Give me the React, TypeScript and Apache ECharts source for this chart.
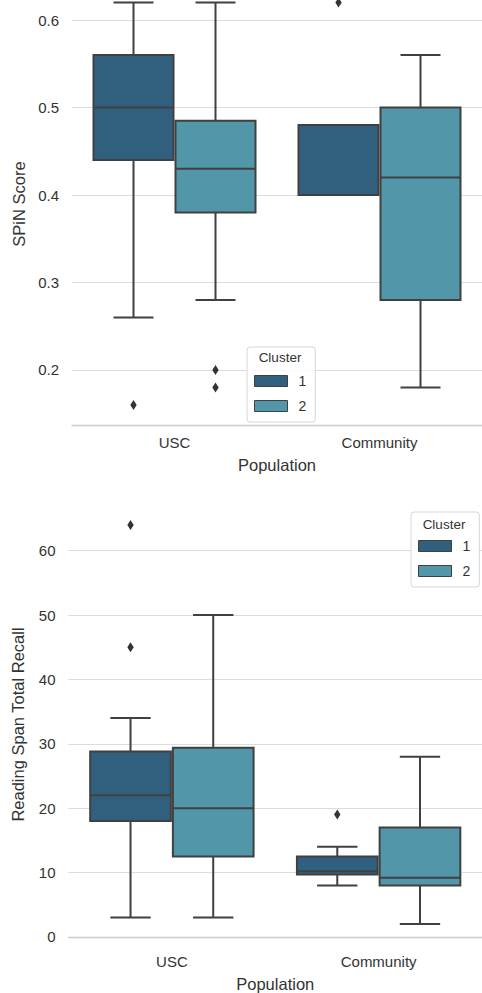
import React, { useEffect, useRef } from 'react';
import * as echarts from 'echarts';

// ---- data ----
const categories = ['USC', 'Community'];
const clusterNames = ['1', '2'];
// each row: [min whisker, Q1, median, Q3, max whisker], one row per category
const spinCluster1 = [
  [0.26, 0.44, 0.5, 0.56, 0.62],
  [0.4, 0.4, 0.4, 0.48, 0.48],
];
const spinCluster2 = [
  [0.28, 0.38, 0.43, 0.485, 0.62],
  [0.18, 0.28, 0.42, 0.5, 0.56],
];
// [category index, value]
const spinOutliers1 = [
  [0, 0.16],
  [1, 0.62],
];
const spinOutliers2 = [
  [0, 0.2],
  [0, 0.18],
];
const recallCluster1 = [
  [3, 18, 22, 28.8, 34],
  [8, 9.7, 10.2, 12.5, 14],
];
const recallCluster2 = [
  [3, 12.5, 20, 29.4, 50],
  [2, 8, 9.2, 17, 28],
];
const recallOutliers1 = [
  [0, 45],
  [0, 64],
  [1, 19],
];
const recallOutliers2: number[][] = [];

const spinRange = [0.137, 0.623];
const recallRange = [-1.1, 67.1];

const COLOR1 = '#31607e';
const COLOR2 = '#5296aa';
const LINE = '#404040';
const FONT = '"Liberation Sans", Arial, sans-serif';

const toRows = (stats: number[][]) => stats.map((s, i) => [i, ...s]);

const makeBoxRender = (side: number) => (params: any, api: any) => {
  const cat = api.value(0);
  const band = api.size([1, 0])[0];
  const base = api.coord([cat, api.value(3)]);
  const cx = base[0] + side * band * 0.2;
  const w = band * 0.4 - 2;
  const y = (v: number) => api.coord([cat, v])[1];
  const yMin = y(api.value(1));
  const yQ1 = y(api.value(2));
  const yMed = y(api.value(3));
  const yQ3 = y(api.value(4));
  const yMax = y(api.value(5));
  const cap = w / 4;
  const ls = { stroke: LINE, lineWidth: 2 };
  return {
    type: 'group',
    children: [
      { type: 'line', shape: { x1: cx, y1: yMin, x2: cx, y2: yMax }, style: ls },
      { type: 'line', shape: { x1: cx - cap, y1: yMin, x2: cx + cap, y2: yMin }, style: ls },
      { type: 'line', shape: { x1: cx - cap, y1: yMax, x2: cx + cap, y2: yMax }, style: ls },
      {
        type: 'rect',
        shape: { x: cx - w / 2, y: yQ3, width: w, height: yQ1 - yQ3 },
        style: { fill: api.visual('color'), stroke: LINE, lineWidth: 2 },
      },
      { type: 'line', shape: { x1: cx - w / 2, y1: yMed, x2: cx + w / 2, y2: yMed }, style: ls },
    ],
  };
};

const makeOutlierRender = (side: number) => (params: any, api: any) => {
  const cat = api.value(0);
  const band = api.size([1, 0])[0];
  const p = api.coord([cat, api.value(1)]);
  const cx = p[0] + side * band * 0.2;
  const cy = p[1];
  return {
    type: 'polygon',
    shape: {
      points: [
        [cx, cy - 5],
        [cx + 3.2, cy],
        [cx, cy + 5],
        [cx - 3.2, cy],
      ],
    },
    style: { fill: '#333333' },
  };
};

const boxSeries = (name: string, color: string, stats: number[][], side: number, gi: number) => ({
  type: 'custom',
  name,
  xAxisIndex: gi,
  yAxisIndex: gi,
  itemStyle: { color },
  renderItem: makeBoxRender(side),
  encode: { x: 0, y: [1, 2, 3, 4, 5] },
  data: toRows(stats),
  clip: false,
  z: 3,
});

const outlierSeries = (name: string, pts: number[][], side: number, gi: number) => ({
  type: 'custom',
  name,
  xAxisIndex: gi,
  yAxisIndex: gi,
  renderItem: makeOutlierRender(side),
  encode: { x: 0, y: 1 },
  data: pts,
  clip: false,
  z: 4,
});

const xAxisCfg = (gi: number) => ({
  type: 'category',
  gridIndex: gi,
  data: categories,
  axisTick: { show: false },
  axisLine: { show: true, lineStyle: { color: '#cccccc', width: 1.3 } },
  axisLabel: { fontSize: 15, color: '#333', margin: 10, fontFamily: FONT },
  name: 'Population',
  nameLocation: 'middle',
  nameGap: 31,
  nameTextStyle: { fontSize: 16.5, color: '#333', fontFamily: FONT },
  splitLine: { show: false },
});

const yAxisCfg = (gi: number, range: number[], name: string, namePad: number) => ({
  type: 'value',
  gridIndex: gi,
  min: range[0],
  max: range[1],
  axisLine: { show: false },
  axisTick: { show: false },
  axisLabel: {
    fontSize: 15,
    color: '#333',
    margin: 13,
    fontFamily: FONT,
    showMinLabel: false,
    showMaxLabel: false,
  },
  splitLine: {
    show: true,
    showMinLine: false,
    showMaxLine: false,
    lineStyle: { color: '#dcdcdc', width: 1.2 },
  },
  name,
  nameLocation: 'middle',
  nameGap: 42,
  nameTextStyle: {
    fontSize: 16.5,
    color: '#333',
    fontFamily: FONT,
    padding: [0, 0, 0, namePad],
  },
});

const legendCfg = (left: number, top: number) => ({
  data: clusterNames,
  left,
  top,
  orient: 'vertical',
  icon: 'rect',
  itemWidth: 33,
  itemHeight: 11,
  itemGap: 11,
  padding: [27, 9, 9, 7],
  borderColor: '#d6d6d6',
  borderWidth: 1,
  borderRadius: 3,
  backgroundColor: 'rgba(255,255,255,0.85)',
  itemStyle: { borderColor: LINE, borderWidth: 1 },
  textStyle: { fontSize: 14, color: '#333', fontFamily: FONT, padding: [0, 0, 0, 6] },
  selectedMode: false,
  z: 10,
});

export default function App() {
  const ref = useRef<HTMLDivElement>(null);
  useEffect(() => {
    if (!ref.current) return;
    const chart = echarts.init(ref.current, undefined, { renderer: 'svg' });
    chart.setOption({
      animation: false,
      backgroundColor: '#ffffff',
      textStyle: { fontFamily: FONT },
      grid: [
        { left: 72, top: 0, width: 415, height: 425 },
        { left: 68.5, top: 505, width: 416, height: 440.7 },
      ],
      xAxis: [xAxisCfg(0), xAxisCfg(1)],
      yAxis: [
        yAxisCfg(0, spinRange, 'SPiN Score', 17),
        yAxisCfg(1, recallRange, 'Reading Span Total Recall', 0),
      ],
      legend: [legendCfg(247, 347), legendCfg(411, 512)],
      graphic: [
        {
          type: 'text',
          x: 280,
          y: 357,
          z: 20,
          style: {
            text: 'Cluster',
            fontSize: 13.5,
            fill: '#333',
            fontFamily: FONT,
            textAlign: 'center',
            textVerticalAlign: 'middle',
          },
        },
        {
          type: 'text',
          x: 444,
          y: 524,
          z: 20,
          style: {
            text: 'Cluster',
            fontSize: 13.5,
            fill: '#333',
            fontFamily: FONT,
            textAlign: 'center',
            textVerticalAlign: 'middle',
          },
        },
      ],
      series: [
        boxSeries(clusterNames[0], COLOR1, spinCluster1, -1, 0),
        boxSeries(clusterNames[1], COLOR2, spinCluster2, 1, 0),
        outlierSeries('out-spin-1', spinOutliers1, -1, 0),
        outlierSeries('out-spin-2', spinOutliers2, 1, 0),
        boxSeries(clusterNames[0], COLOR1, recallCluster1, -1, 1),
        boxSeries(clusterNames[1], COLOR2, recallCluster2, 1, 1),
        outlierSeries('out-recall-1', recallOutliers1, -1, 1),
        outlierSeries('out-recall-2', recallOutliers2, 1, 1),
      ],
    });
    return () => chart.dispose();
  }, []);
  return (
    <div
      ref={ref}
      style={{ position: 'absolute', left: 0, top: 0, width: 482, height: 993, background: '#fff' }}
    />
  );
}
